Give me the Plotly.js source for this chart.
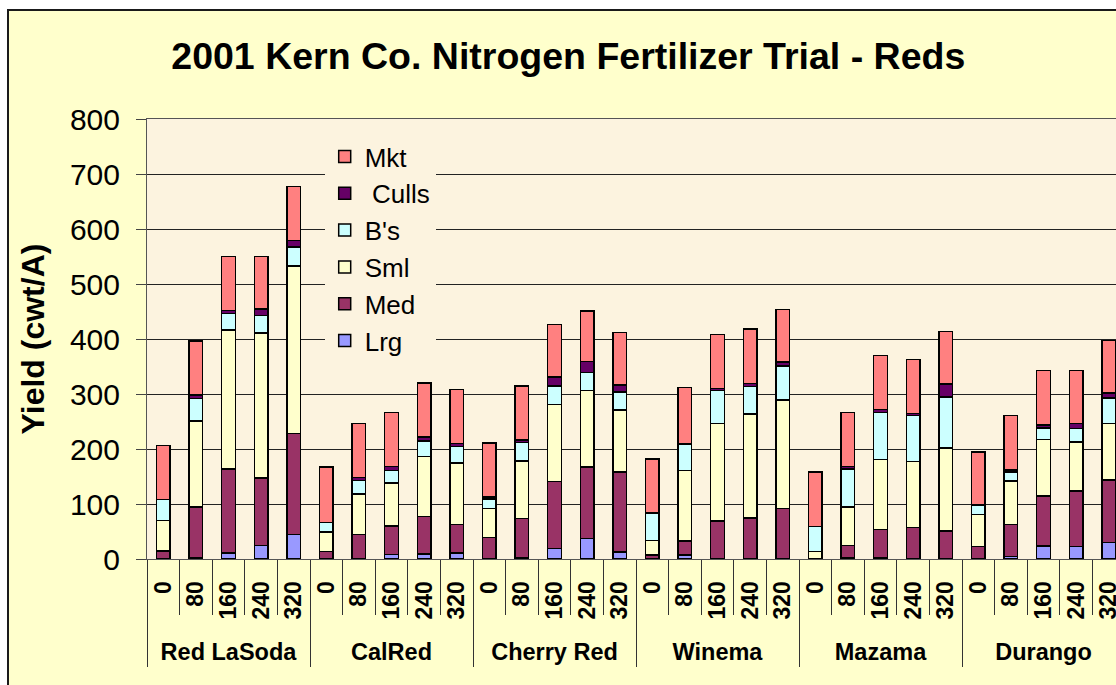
<!DOCTYPE html>
<html>
<head>
<meta charset="utf-8">
<script src="https://cdn.plot.ly/plotly-3.0.1.min.js"></script>
<style>
  html, body { margin: 0; padding: 0; background: #ffffff; overflow: hidden; width: 1116px; height: 685px; }
  #wrap { position: absolute; left: 7px; top: 9px; border-left: 2px solid #1a1a1a; border-top: 2px solid #1a1a1a; }
  #chart { width: 1140px; height: 674px; }
</style>
</head>
<body>
<div id="wrap"><div id="chart"></div></div>
<script>
// ---- data ----
const varieties = ['Red LaSoda', 'CalRed', 'Cherry Red', 'Winema', 'Mazama', 'Durango'];
const rates = ['0', '80', '160', '240', '320'];

// values per bar, varieties in order above, rates 0..320 within each
const lrg   = [0, 2, 11, 25, 45,   0, 1, 8, 9, 11,     0, 2, 19, 37, 13,    0, 7, 0, 0, 0,       0, 3, 2, 0, 0,      0, 5, 24, 23, 30];
const med   = [15, 93, 153, 122, 183,  14, 44, 52, 68, 52,  39, 72, 122, 130, 145,  7, 26, 69, 75, 92,  0, 22, 52, 57, 51,  23, 58, 91, 101, 114];
const sml   = [55, 156, 252, 264, 305, 35, 73, 78, 109, 112, 53, 104, 140, 139, 113, 27, 128, 177, 189, 197, 14, 70, 127, 120, 151, 58, 79, 102, 89, 102];
const bs    = [38, 41, 30, 32, 34,   17, 25, 23, 29, 30,  17, 34, 34, 33, 33,   50, 47, 60, 50, 62,  45, 69, 85, 84, 93,  17, 16, 21, 24, 47];
const culls = [0, 6, 6, 12, 12,      0, 5, 7, 7, 5,       4, 4, 16, 20, 12,     0, 2, 4, 5, 7,       0, 4, 6, 4, 23,      0, 4, 6, 9, 9];
const mkt   = [98, 98, 98, 95, 98,   101, 98, 98, 98, 98, 98, 99, 95, 92, 96,   98, 102, 98, 99, 96, 99, 98, 98, 98, 96, 97, 99, 99, 97, 95];

const seriesNames = ['Lrg', 'Med', 'Sml', "B's", '\u00a0Culls', 'Mkt'];
const seriesColors = ['#9999FF', '#993366', '#FFFFCC', '#CCFFFF', '#660066', '#FF8080'];
const seriesValues = [lrg, med, sml, bs, culls, mkt];

const titleText = '2001 Kern Co. Nitrogen Fertilizer Trial - Reds';
const yTitle = 'Yield (cwt/A)';

// ---- build ----
const keys = [];       // one unique category per bar
const keyLabels = [];  // the rate label shown under each bar
varieties.forEach(v => rates.forEach(r => { keys.push(v + ' ' + r); keyLabels.push(r); }));
const nPer = rates.length;
const nAll = keys.length;
const groupCenters = varieties.map((v, i) => i * nPer + (nPer - 1) / 2);
const groupBounds = varieties.map((v, i) => i * nPer - 0.5).concat([nAll - 0.5]);
const xRange = [-0.5, nAll - 0.5];

const FONT = 'Liberation Sans, Arial, sans-serif';
const PLOTBG = '#FCF3DF';

const traces = seriesNames.map((n, i) => ({
  type: 'bar',
  name: n,
  x: keys,
  y: seriesValues[i],
  marker: { color: seriesColors[i], line: { color: '#000000', width: 1.5 } },
  hoverinfo: 'skip'
}));
// empty carriers so the label/divider axes are drawn
['x2', 'x3'].forEach(ax => traces.push({
  type: 'scatter', mode: 'markers', x: [], y: [], xaxis: ax, yaxis: 'y',
  showlegend: false, hoverinfo: 'skip'
}));

const layout = {
  width: 1140,
  height: 674,
  margin: { l: 138, r: 24, t: 108, b: 126 },
  paper_bgcolor: '#FFFFCC',
  plot_bgcolor: PLOTBG,
  barmode: 'stack',
  bargap: 0.585,
  font: { family: FONT, color: '#000000' },
  title: {
    text: titleText,
    font: { family: FONT, size: 37.5, weight: 'bold', color: '#000000' },
    x: 0.4906, xanchor: 'center',
    y: 0.9335, yanchor: 'middle'
  },
  showlegend: true,
  legend: {
    x: 0.1817, xanchor: 'left',
    y: 0.968, yanchor: 'top',
    traceorder: 'reversed',
    bgcolor: PLOTBG,
    borderwidth: 0,
    font: { family: FONT, size: 26, color: '#000000' }
  },
  // rate labels under every bar, with separators at the bar boundaries
  xaxis: {
    type: 'category',
    range: xRange,
    tickmode: 'array',
    tickvals: keys,
    ticktext: keyLabels,
    tickangle: -90,
    tickfont: { family: FONT, size: 23, weight: 'bold', color: '#000000' },
    ticks: 'outside',
    tickson: 'boundaries',
    ticklen: 55,
    tickcolor: '#333333',
    tickwidth: 1,
    ticklabelstandoff: 12,
    showline: true,
    linecolor: '#555555',
    linewidth: 1,
    mirror: true,
    showgrid: false,
    automargin: false
  },
  // variety names, centred under each group of five bars
  xaxis2: {
    overlaying: 'x',
    anchor: 'y',
    side: 'bottom',
    type: 'linear',
    range: xRange,
    tickmode: 'array',
    tickvals: groupCenters,
    ticktext: varieties,
    ticks: '',
    tickfont: { family: FONT, size: 23.5, weight: 'bold', color: '#000000' },
    ticklabelstandoff: 76,
    showline: false,
    showgrid: false,
    zeroline: false,
    automargin: false
  },
  // long dividers between the varieties
  xaxis3: {
    overlaying: 'x',
    anchor: 'y',
    side: 'bottom',
    type: 'linear',
    range: xRange,
    tickmode: 'array',
    tickvals: groupBounds,
    showticklabels: false,
    ticks: 'outside',
    ticklen: 107,
    tickcolor: '#333333',
    tickwidth: 1,
    showline: false,
    showgrid: false,
    zeroline: false,
    automargin: false
  },
  yaxis: {
    range: [0, 800],
    dtick: 100,
    tick0: 0,
    ticks: 'outside',
    ticklen: 10,
    tickcolor: '#444444',
    tickfont: { family: FONT, size: 30, color: '#000000' },
    ticklabelstandoff: 10,
    showline: true,
    linecolor: '#555555',
    linewidth: 1,
    showgrid: true,
    gridcolor: '#222222',
    gridwidth: 1,
    zeroline: false,
    automargin: false,
    title: {
      text: yTitle,
      font: { family: FONT, size: 32, weight: 'bold', color: '#000000' },
      standoff: 15
    }
  }
};

Plotly.newPlot('chart', traces, layout, { staticPlot: true, displayModeBar: false });
</script>
</body>
</html>
